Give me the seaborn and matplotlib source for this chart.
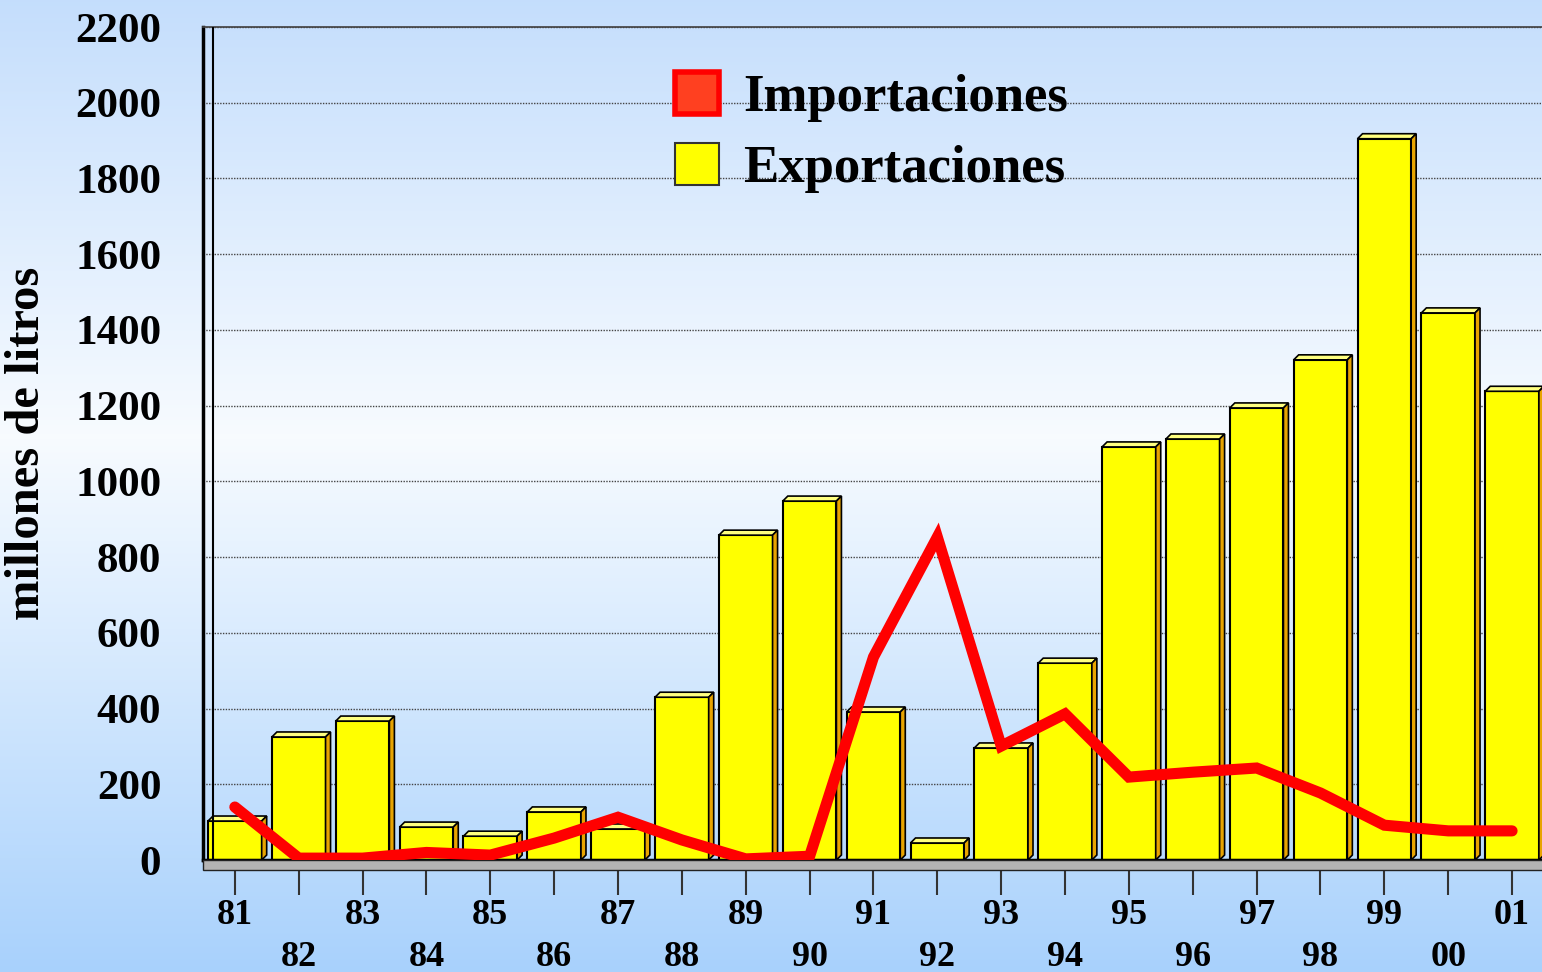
import numpy as np
import pandas as pd
import matplotlib.pyplot as plt
import seaborn as sns
from matplotlib.patches import Patch, Polygon, Rectangle
from matplotlib.lines import Line2D

# datos (millones de litros)
anios = ['81', '82', '83', '84', '85', '86', '87', '88', '89', '90', '91',
         '92', '93', '94', '95', '96', '97', '98', '99', '00', '01']
exportaciones = [103, 325, 367, 87, 63, 127, 82, 430, 858, 948, 391,
                 45, 296, 520, 1091, 1112, 1194, 1321, 1905, 1445, 1238]
importaciones = [140, 5, 5, 20, 13, 58, 113, 53, 3, 10, 536,
                 853, 301, 386, 219, 232, 243, 177, 92, 77, 77]
etiquetas_x = [a if i % 2 == 0 else '\n' + a for i, a in enumerate(anios)]
ticks_y = list(range(0, 2201, 200))

df = pd.DataFrame({'anio': anios, 'exp': exportaciones, 'imp': importaciones})

sns.set_theme(style='white')
plt.rcParams['font.family'] = ['Liberation Serif', 'DejaVu Serif']
plt.rcParams['font.weight'] = 'bold'
for k in ['text.color', 'axes.labelcolor', 'xtick.color', 'ytick.color']:
    plt.rcParams[k] = 'black'

fig = plt.figure(figsize=(15.42, 9.72), dpi=100)

# fondo degradado
bg = fig.add_axes([0, 0, 1, 1], zorder=-10)
stops = np.array([0.0, 0.45, 1.0])
cols = np.array([[0.77, 0.87, 0.99], [0.97, 0.985, 1.0], [0.66, 0.82, 0.99]])
t = np.linspace(0, 1, 400)
grad = np.stack([np.interp(t, stops, cols[:, k]) for k in range(3)], axis=1)
bg.imshow(grad[:, None, :], aspect='auto', extent=[0, 1, 0, 1])
bg.axis('off')

ax = fig.add_axes([0.1316, 0.1152, 0.8697, 0.857])
ax.set_facecolor('none')

sns.barplot(data=df, x='anio', y='exp', order=anios, color='#ffff00',
            saturation=1, edgecolor='black', linewidth=1.5, width=0.84,
            ax=ax, zorder=2)
barras = list(ax.patches)

sns.pointplot(data=df, x='anio', y='imp', order=anios, color='#ff0000',
              markers='', linewidth=8, errorbar=None, ax=ax)
for ln in ax.lines:
    ln.set_zorder(6)
    ln.set_solid_capstyle('round')
    ln.set_solid_joinstyle('miter')

ax.set_xlim(-0.5, len(anios) - 0.5)
ax.set_ylim(0, 2200)
ax.set_yticks(ticks_y)
ax.set_yticklabels([str(v) for v in ticks_y], fontsize=31)
ax.set_xticks(range(len(anios)))
ax.set_xticklabels(etiquetas_x, fontsize=26)
for tl in ax.get_xticklabels():
    tl.set_linespacing(1.35)
ax.tick_params(axis='x', bottom=True, length=25, width=1.5, color='#333333',
               pad=3, direction='out')
ax.tick_params(axis='y', left=False, length=0, pad=30)

ax.set_xlabel('')
ax.set_ylabel('millones de litros', fontsize=35, fontweight='bold')
ax.yaxis.set_label_coords(-0.115, 0.5)

ax.yaxis.grid(True, linestyle=(0, (1, 1)), color='#444444', linewidth=1)
ax.xaxis.grid(False)
ax.set_axisbelow(True)

for s in ['left', 'bottom']:
    ax.spines[s].set_color('black')
    ax.spines[s].set_linewidth(2.5)
ax.spines['top'].set_linestyle((0, (1, 1)))
ax.spines['top'].set_color('#444444')
ax.spines['right'].set_visible(False)

# pared izquierda y suelo
ax.add_line(Line2D([0.0075, 0.0075], [0, 1], transform=ax.transAxes,
                   color='black', lw=1.5, zorder=3))
ax.add_patch(Rectangle((0, -0.012), 1, 0.012, transform=ax.transAxes,
                       clip_on=False, facecolor='#b4b4b4', edgecolor='#222222',
                       lw=1, zorder=3))

# efecto 3D de las barras
inv = ax.transData.inverted()
dx, dy = inv.transform((5, 5)) - inv.transform((0, 0))
for bar in barras:
    x0, w, h = bar.get_x(), bar.get_width(), bar.get_height()
    ax.add_patch(Polygon([(x0, h), (x0 + w, h), (x0 + w + dx, h + dy), (x0 + dx, h + dy)],
                         closed=True, facecolor='#ffff80', edgecolor='black',
                         lw=1.2, zorder=2.2))
    ax.add_patch(Polygon([(x0 + w, 0), (x0 + w + dx, dy), (x0 + w + dx, h + dy), (x0 + w, h)],
                         closed=True, facecolor='#e8a400', edgecolor='black',
                         lw=1.2, zorder=2.2))

handles = [Patch(facecolor='#ff4020', edgecolor='#ff0000', linewidth=4, label='Importaciones'),
           Patch(facecolor='#ffff00', edgecolor='#333333', linewidth=1.5, label='Exportaciones')]
ax.legend(handles=handles, loc='upper left', bbox_to_anchor=(0.332, 0.978),
          frameon=False, prop={'size': 38, 'weight': 'bold'},
          handlelength=0.85, handleheight=0.85, handletextpad=0.45,
          labelspacing=0.4, borderpad=0)

fig.savefig('out.png', dpi=100)
